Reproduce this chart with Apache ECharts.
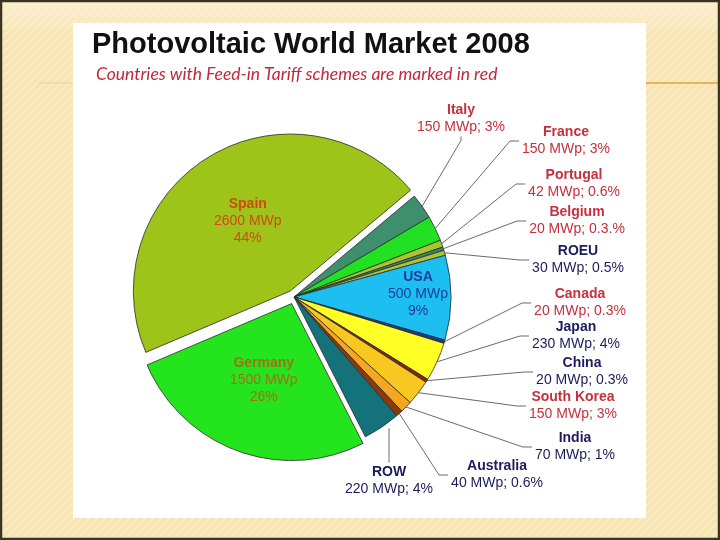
<!DOCTYPE html>
<html>
<head>
<meta charset="utf-8">
<script src="https://cdn.jsdelivr.net/npm/echarts@6/dist/echarts.min.js"></script>
<style>html,body{margin:0;padding:0;background:#f5e4b3;} #chart{width:720px;height:540px;}</style>
</head>
<body>
<div id="chart"></div>
<script>
// ---- data ----
const countries = ['Spain','Italy','France','Portugal','Belgium','ROEU','USA','Canada','Japan','China','South Korea','India','Australia','ROW','Germany'];
const capacityMWp = [2600,150,150,42,20,30,500,20,230,20,150,70,40,220,1500];
const shareLabels = ['44%','3%','3%','0.6%','0.3.%','0.5%','9%','0.3%','4%','0.3%','3%','1%','0.6%','4%','26%'];
const feedInTariff = ['Spain','Italy','France','Portugal','Belgium','Canada','South Korea','Germany'];
const titleText = 'Photovoltaic World Market 2008';
const subtitleText = 'Countries with Feed-in Tariff schemes are marked in red';

// ---- styles / layout ----
const sliceColors = {
  'Spain':'#9ec419','Italy':'#3d8f6e','France':'#22e022','Portugal':'#a6c632','Belgium':'#3a8a5a',
  'ROEU':'#aac43c','USA':'#1cbff0','Canada':'#1a3c8c','Japan':'#ffff26','China':'#8b2500',
  'South Korea':'#f8c820','India':'#f5a623','Australia':'#8b3a0a','ROW':'#14737a','Germany':'#24e41e'
};
const insideLabels = {'Spain':'#d04a12','Germany':'#9c7414','USA':'#1e3c9c'};
// label block centre and the side the leader line enters from
const labelPlacement = {
  'Spain':[245,230,'inside'],'Germany':[258,381,'inside'],'USA':[418,294,'inside'],
  'Italy':[461,119,'bottom'],'France':[566,141,'left'],'Portugal':[574,184,'left'],
  'Belgium':[577,221,'left'],'ROEU':[578,260,'left'],'Canada':[580,303,'left'],
  'Japan':[576,336,'left'],'China':[582,372,'left'],'South Korea':[573,406,'left'],
  'India':[575,447,'left'],'Australia':[497,475,'left'],'ROW':[389,481,'top']
};
const RED = '#c62f3b', NAVY = '#1c1c5c';

// striped slide background
const pc = document.createElement('canvas'); pc.width = 8; pc.height = 8;
const g = pc.getContext('2d');
g.fillStyle = '#f6e3b0'; g.fillRect(0,0,8,8);
g.strokeStyle = '#faecc6'; g.lineWidth = 2;
g.beginPath(); g.moveTo(-1,9); g.lineTo(9,-1); g.moveTo(-5,5); g.lineTo(5,-5); g.moveTo(3,13); g.lineTo(13,3); g.stroke();

const data = countries.map((name, i) => {
  const inside = insideLabels[name] !== undefined;
  const item = {
    name: name,
    value: capacityMWp[i],
    selected: name === 'Spain' || name === 'Germany',
    itemStyle: { color: sliceColors[name] }
  };
  if (inside) {
    const c = insideLabels[name];
    item.label = {
      position: 'inside',
      formatter: '{a|' + name + '}\n{b|' + capacityMWp[i] + ' MWp}\n{b|' + shareLabels[i] + '}',
      rich: {
        a: { fontWeight: 'bold', fontSize: 14, lineHeight: 17, color: c, fontFamily: 'Liberation Sans' },
        b: { fontSize: 14, lineHeight: 17, color: c, fontFamily: 'Liberation Sans' }
      }
    };
    item.labelLine = { show: false };
  } else {
    const c = feedInTariff.indexOf(name) >= 0 ? RED : NAVY;
    item.label = {
      position: 'outside',
      formatter: '{a|' + name + '}\n{b|' + capacityMWp[i] + ' MWp; ' + shareLabels[i] + '}',
      rich: {
        a: { fontWeight: 'bold', fontSize: 14, lineHeight: 17, color: c, fontFamily: 'Liberation Sans' },
        b: { fontSize: 14, lineHeight: 17, color: c, fontFamily: 'Liberation Sans' }
      }
    };
    item.labelLine = { show: true };
  }
  return item;
});

const chart = echarts.init(document.getElementById('chart'), null, { renderer: 'canvas' });
chart.setOption({
  animation: false,
  backgroundColor: '#f5e4b3',
  graphic: [
    { type: 'rect', z: 0, shape: { x: 0, y: 0, width: 720, height: 540 }, style: { fill: { image: pc, repeat: 'repeat' } } },
    { type: 'rect', z: 0, shape: { x: 0, y: 0, width: 720, height: 30 },
      style: { fill: new echarts.graphic.LinearGradient(0,0,0,1,[{offset:0,color:'#fcefcf'},{offset:1,color:'rgba(252,239,207,0.3)'}]) } },
    { type: 'line', z: 0, shape: { x1: 646, y1: 83, x2: 720, y2: 83 }, style: { stroke: '#e0a53a', lineWidth: 1.5 } },
    { type: 'line', z: 0, shape: { x1: 38, y1: 83, x2: 73, y2: 83 }, style: { stroke: '#ead59c', lineWidth: 1.2 } },
    { type: 'rect', z: 0, shape: { x: 73, y: 23, width: 573, height: 495 }, style: { fill: '#ffffff' } },
    { type: 'rect', z: 0, shape: { x: 1, y: 1, width: 718, height: 538 }, style: { fill: 'none', stroke: '#3b3424', lineWidth: 2.5 } }
  ],
  title: [
    { text: titleText, left: 92, top: 30, padding: 0,
      textStyle: { fontFamily: 'Liberation Sans', fontWeight: 'bold', fontSize: 29, color: '#111111' } },
    { text: subtitleText, left: 96, top: 65, padding: 0,
      textStyle: { fontFamily: 'Lato', fontStyle: 'italic', fontWeight: 'normal', fontSize: 17.5, color: '#c0283a' } }
  ],
  series: [{
    type: 'pie',
    center: [294, 297],
    radius: [0, 157],
    startAngle: 203,
    clockwise: true,
    selectedMode: 'multiple',
    selectedOffset: 7,
    avoidLabelOverlap: false,
    emphasis: { disabled: true },
    itemStyle: { borderColor: '#2b2b2b', borderWidth: 0.8 },
    labelLine: { length: 10, length2: 10, smooth: false, lineStyle: { color: '#6a6a6a', width: 1 } },
    labelLayout: function (p) {
      const name = countries[p.dataIndex];
      const pl = labelPlacement[name];
      const w = p.labelRect.width, h = p.labelRect.height;
      const res = { x: pl[0], y: pl[1], align: 'center', verticalAlign: 'middle' };
      const pts = p.labelLinePoints;
      if (pts && pl[2] !== 'inside') {
        const s = pts[0];
        if (pl[2] === 'left') {
          const end = [pl[0] - w / 2 - 3, pl[1]];
          res.labelLinePoints = [s, [end[0] - 9, pl[1]], end];
        } else if (pl[2] === 'bottom') {
          res.labelLinePoints = [s, [pl[0], pl[1] + h / 2 + 6], [pl[0], pl[1] + h / 2 + 2]];
        } else {
          const end = [pl[0], pl[1] - h / 2 - 3];
          res.labelLinePoints = [[pl[0], s[1] + 1], end, end];
        }
      }
      return res;
    },
    data: data
  }]
});
</script>
</body>
</html>
